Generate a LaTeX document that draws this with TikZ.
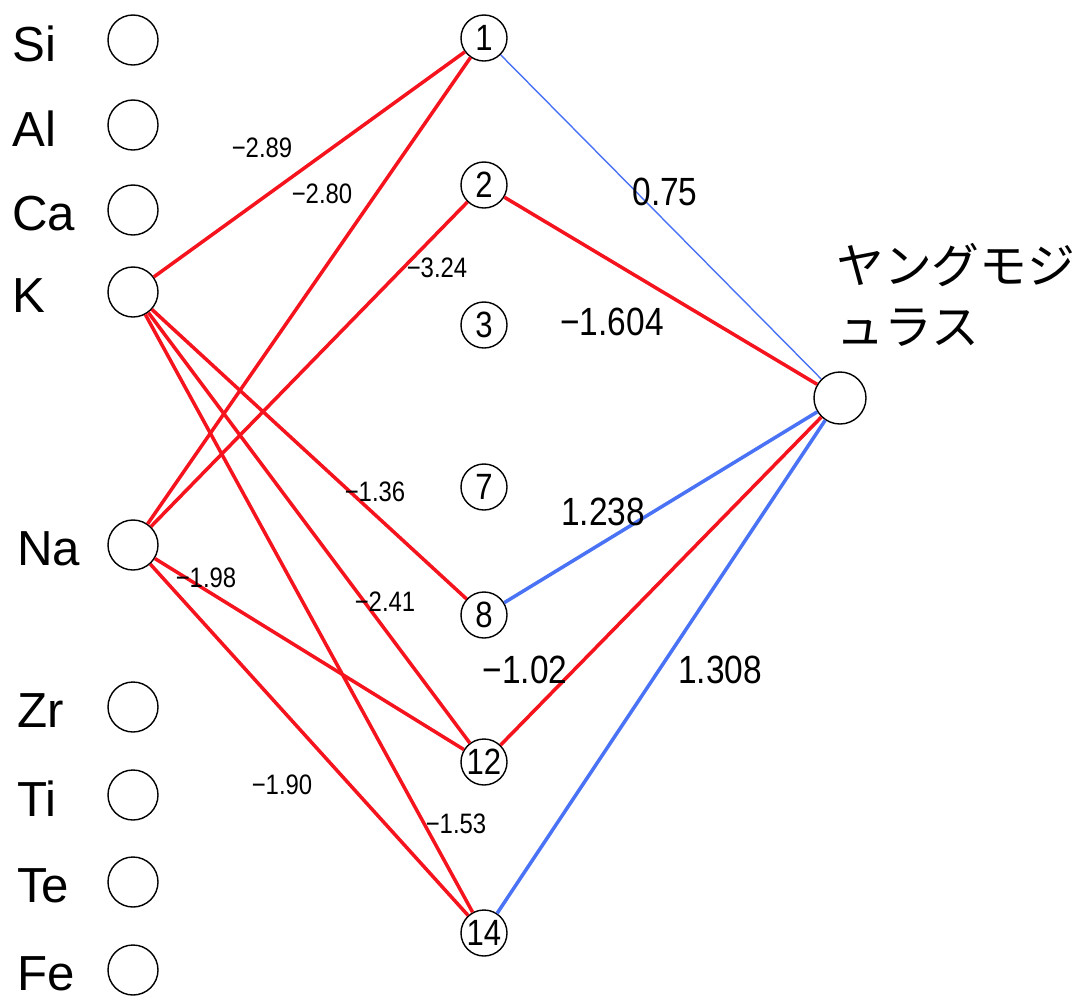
\documentclass[tikz,border=0pt]{standalone}
\usepackage{fontspec}
\usepackage{tikz}
\setmainfont{Liberation Sans}
\newfontfamily\numfont[FakeStretch=0.85]{Liberation Sans}
\newfontfamily\jpfont{Noto Sans CJK JP}
\definecolor{wneg}{HTML}{F5141E}
\definecolor{wpos}{HTML}{4A72F5}
\tikzset{
  inp/.style={circle, draw, line width=1pt, fill=white, minimum size=1.25cm, inner sep=0pt},
  hid/.style={circle, draw, line width=1pt, fill=white, minimum size=1.15cm, inner sep=0pt,
              font=\numfont\fontsize{26}{26}\selectfont},
  outp/.style={circle, draw, line width=1pt, fill=white, minimum size=1.3cm, inner sep=0pt},
  elem/.style={anchor=west, inner sep=0pt, font=\fontsize{35}{35}\selectfont},
  negw/.style={draw=wneg, line width=2.5pt},
  posw/.style={draw=wpos, line width=2.5pt},
  lsmall/.style={inner sep=0pt, font=\numfont\fontsize{20}{20}\selectfont},
  lbig/.style={inner sep=0pt, font=\numfont\fontsize{28}{28}\selectfont},
}

\begin{document}
\begin{tikzpicture}[x=0.025cm, y=-0.025cm]
  \useasboundingbox (0,0) rectangle (1080,1002);

  % input layer
  \foreach \n/\y in {Si/40,Al/125,Ca/210,K/292,Na/545,Zr/707,Ti/795,Te/882,Fe/970}
    \node[inp] (\n) at (133,\y) {};
  \foreach \n/\x/\y in {Si/12/40,Al/12/125,Ca/12/210,K/12/292,Na/17/545,Zr/17/707,Ti/17/795,Te/17/882,Fe/17/970}
    \node[elem] (t\n) at (\x,\y+4) {\n};

  % hidden layer
  \foreach \n/\y in {1/38,2/185,3/325,7/487,8/615,12/762,14/933}
    \node[hid] (h\n) at (484,\y) {\n};

  % output
  \node[outp] (out) at (840,398) {};
  \node[anchor=west, inner sep=0pt, align=left,
        font=\jpfont\fontsize{34}{43}\selectfont] (ylab) at (836,295)
    {ヤングモジ\\ュラス};

  % weights
  \foreach \a/\b in {K/1,Na/1,Na/2,K/8,K/12,K/14,Na/12,Na/14}
    \draw[negw] (\a) -- (h\b);
  \draw[posw, line width=1pt] (h1) -- (out);
  \draw[negw] (h2) -- (out);
  \draw[posw] (h8) -- (out);
  \draw[negw] (h12) -- (out);
  \draw[posw] (h14) -- (out);

  \foreach \i/\x/\y/\v in {1/262/148/−2.89,2/322/194/−2.80,3/437/268/−3.24,4/375/492/−1.36,
                           5/206/578/−1.98,6/385/602/−2.41,7/282/785/−1.90,8/456/824/−1.53}
    \node[lsmall] (a\i) at (\x,\y) {\v};
  \foreach \i/\x/\y/\v in {1/665/192/0.75,2/612/322/−1.604,3/603/512/1.238,
                           4/525/670/−1.02,5/720/670/1.308}
    \node[lbig] (b\i) at (\x,\y) {\v};
\end{tikzpicture}
\end{document}
